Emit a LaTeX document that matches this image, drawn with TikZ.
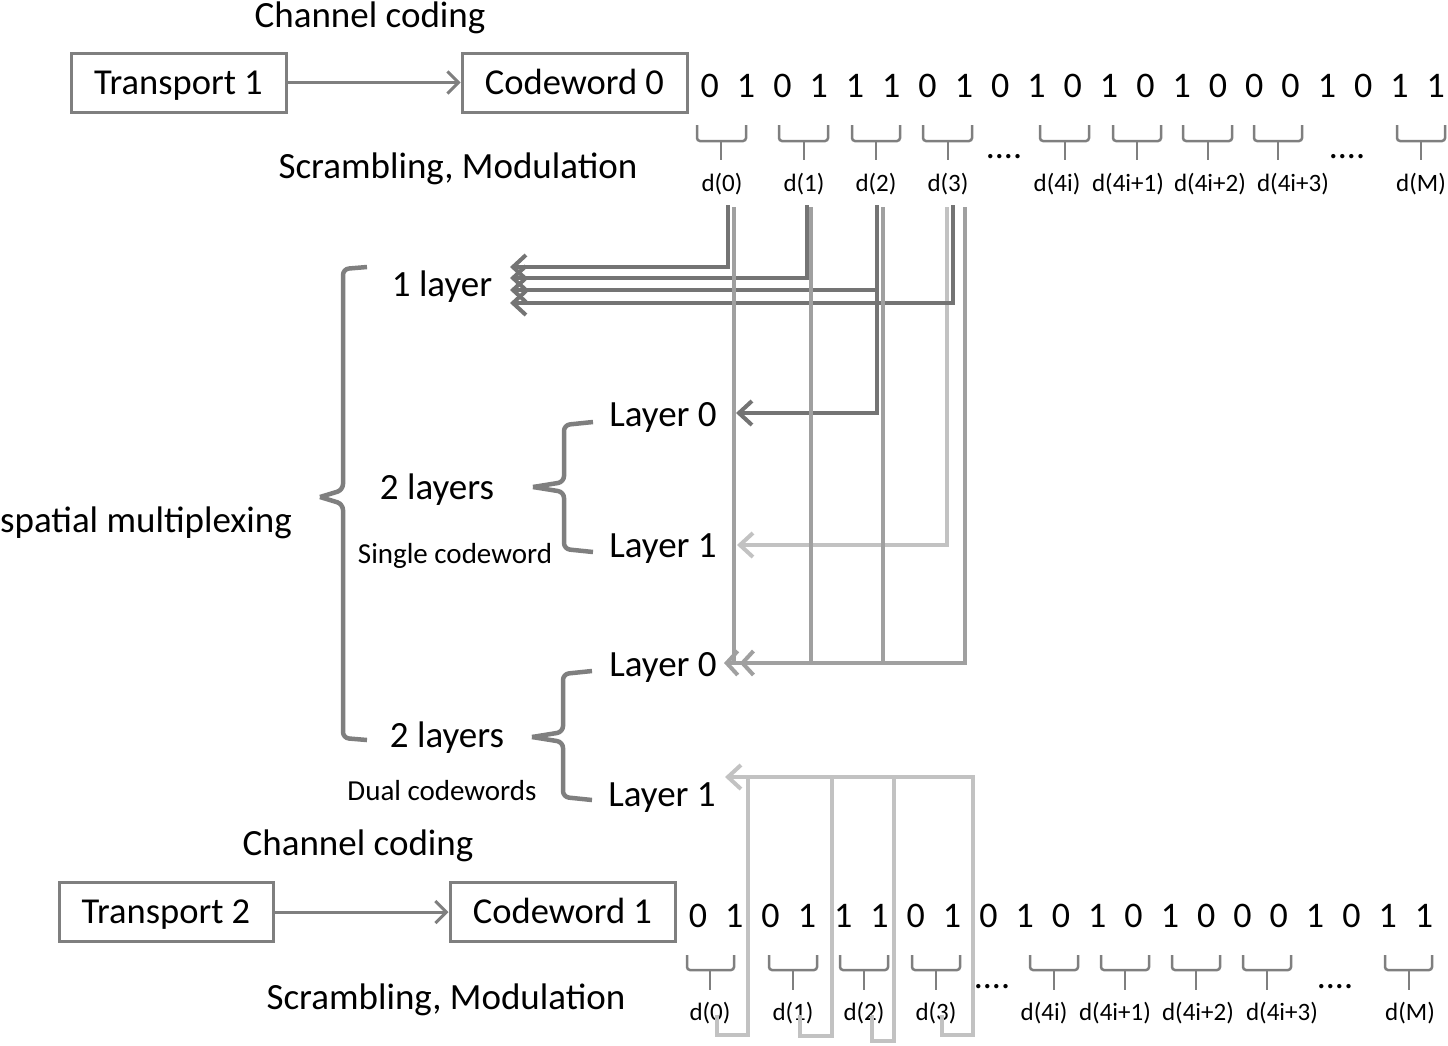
\documentclass[tikz,border=0pt]{standalone}
\usepackage{fontspec}
\setmainfont{Carlito}
\usetikzlibrary{arrows.meta}
\definecolor{dk}{HTML}{747474}
\definecolor{md}{HTML}{A0A0A0}
\definecolor{lt}{HTML}{C2C2C2}
\definecolor{br}{HTML}{7F7F7F}
\begin{document}
\begin{tikzpicture}[x=1pt,y=-1pt,
  big/.style={inner sep=0pt, text height=23.7pt, text depth=0pt, font=\fontsize{37}{40}\selectfont},
  lbl/.style={inner sep=0pt, text height=16pt, text depth=0pt, font=\fontsize{25}{28}\selectfont},
  small/.style={inner sep=0pt, text height=18.6pt, text depth=0pt, font=\fontsize{29}{32}\selectfont},
  dig/.style={inner sep=0pt, text height=23pt, text depth=0pt, font=\fontsize{36}{40}\selectfont},
  boxn/.style={draw=br, line width=3pt, minimum height=59pt, inner sep=0pt, text height=23.4pt, text depth=0pt, font=\fontsize{36.5}{40}\selectfont},
  ubr/.style={draw=br, line width=2.5pt, rounded corners=3pt},
  bigbr/.style={draw=br, line width=4.5pt, rounded corners=6pt},
  conn/.style={line width=4pt},
  tipA/.style={-{Straight Barb[length=13pt,width=24pt]}},
  tipAA/.style={-{Straight Barb[length=11pt,width=24pt] Straight Barb[length=11pt,width=24pt]}},
  flow/.style={draw=br, line width=3pt, -{Straight Barb[length=11pt,width=22pt]}}
]
\useasboundingbox (0,0) rectangle (1448,1045);

% ---------- top row ----------
\node[big] (cc1) at (370,16) {Channel coding};
\node[boxn, minimum width=215pt] (tr1) at (178.5,82.5) {Transport 1};
\node[boxn, minimum width=225pt] (cw0) at (574.5,82.5) {Codeword 0};
\draw[flow] (tr1) -- (cw0);
\node[big] (sm1) at (458,167) {Scrambling, Modulation};

\foreach \v [count=\i] in {0,1,0,1,1,1,0,1,0,1,0,1,0,1,0,0,0,1,0,1,1}
  \node[dig] (t\i) at ({673.5+36.3*\i},86) {\v};

\foreach \a/\c/\b in {697/721/746, 779/804/828, 852/876/900, 923/948/972, 1040/1065/1089, 1113/1137/1161, 1183/1208/1232, 1254/1278/1302, 1397/1421/1445}{
  \draw[ubr] (\a,125) |- (\c,141) -| (\b,125);
  \draw[ubr] (\c,141) -- (\c,160);
}
\node[dig, anchor=base] (dots1) at (1004,158) {....};
\node[dig, anchor=base] (dots2) at (1347,158) {....};

\foreach \x/\t [count=\i] in {722/d(0), 804/d(1), 876/d(2), 948/d(3), 1057/d(4i), 1128/d(4i+1), 1210/d(4i+2), 1293/d(4i+3), 1421/d(M)}
  \node[lbl] (dt\i) at (\x,183) {\t};

% ---------- bottom row ----------
\node[big] (cc2) at (358,844) {Channel coding};
\node[boxn, minimum width=214pt] (tr2) at (166,912) {Transport 2};
\node[boxn, minimum width=225pt] (cw1) at (562.5,912) {Codeword 1};
\draw[flow] (tr2) -- (cw1);
\node[big] (sm2) at (446,998) {Scrambling, Modulation};

\foreach \v [count=\i] in {0,1,0,1,1,1,0,1,0,1,0,1,0,1,0,0,0,1,0,1,1}
  \node[dig] (b\i) at ({661.7+36.3*\i},916) {\v};

\foreach \a/\c/\b in {687/710/734, 769/793/817, 840/864/888, 912/936/960, 1030/1054/1078, 1101/1125/1149, 1172/1196/1220, 1243/1267/1291, 1385/1409/1432}{
  \draw[ubr] (\a,955) |- (\c,970) -| (\b,955);
  \draw[ubr] (\c,970) -- (\c,990);
}
\node[dig, anchor=base] (dots3) at (992,988) {....};
\node[dig, anchor=base] (dots4) at (1335,988) {....};

\foreach \x/\t [count=\i] in {710/d(0), 793/d(1), 864/d(2), 936/d(3), 1044/d(4i), 1115/d(4i+1), 1198/d(4i+2), 1282/d(4i+3), 1410/d(M)}
  \node[lbl] (db\i) at (\x,1012) {\t};

% ---------- left labels ----------
\node[big] (sm) at (146,521) {spatial multiplexing};
\node[big] (one) at (442,285) {1 layer};
\node[big] (two1) at (437,488) {2 layers};
\node[small] (sc) at (455,554) {Single codeword};
\node[big] (L0s) at (663,415) {Layer 0};
\node[big] (L1s) at (663,546) {Layer 1};
\node[big] (L0d) at (663,665) {Layer 0};
\node[big] (two2) at (447,736) {2 layers};
\node[small] (dc) at (442,791) {Dual codewords};
\node[big] (L1d) at (662,795) {Layer 1};

% braces
\draw[bigbr] (367,267) -- (343,269) -- (343,490) -- (320,497);
\draw[bigbr] (320,497) -- (343,504) -- (343,738) -- (367,740);
\draw[bigbr] (593,422) -- (564,425) -- (564,482) -- (533,487);
\draw[bigbr] (533,487) -- (564,492) -- (564,549) -- (593,552);
\draw[bigbr] (592,671) -- (563,674) -- (563,732) -- (532,737);
\draw[bigbr] (532,737) -- (563,742) -- (563,797) -- (592,800);

% ---------- connectors: codeword 0 ----------
\coordinate (s0) at (728,205);
\coordinate (s1) at (807,205);
\coordinate (s2) at (877,205);
\coordinate (s3) at (953,205);
\coordinate (s3l) at (947,207);
\coordinate (m0) at (734,207);
\coordinate (m1) at (811,207);
\coordinate (m2) at (883,207);
\coordinate (m3) at (965,207);
\coordinate (a1) at (510,267);
\coordinate (a2) at (510,278);
\coordinate (a3) at (510,290);
\coordinate (a4) at (510,303);
\coordinate (e0s) at (736,413);
\coordinate (e1s) at (737,545);
\coordinate (e0d) at (724,663);

\draw[conn,lt,tipA] (s3l) |- (e1s);
\draw[conn,dk,tipA] (s0) |- (a1);
\draw[conn,dk,tipA] (s1) |- (a2);
\draw[conn,dk,tipA] (s2) |- (a3);
\draw[conn,dk,tipA] (s3) |- (a4);
\draw[conn,dk,tipA] (s2) |- (e0s);
\draw[conn,md] (m0) -- (m0 |- e0d);
\draw[conn,md] (m1) -- (m1 |- e0d);
\draw[conn,md] (m2) -- (m2 |- e0d);
\draw[conn,md,tipAA] (m3) |- (e0d);

% ---------- connectors: codeword 1 ----------
\coordinate (u0) at (717,1015);
\coordinate (u1) at (800,1015);
\coordinate (u2) at (872,1015);
\coordinate (u3) at (942,1015);
\coordinate (e1d) at (725,777);
\draw[conn,lt] (u0) -- (717,1035) -| (748,777);
\draw[conn,lt] (u1) -- (800,1036) -| (832,777);
\draw[conn,lt] (u2) -- (872,1041) -| (894,777);
\draw[conn,lt,tipA] (u3) -- (942,1035) -| (973,777) -- (e1d);
\end{tikzpicture}
\end{document}
